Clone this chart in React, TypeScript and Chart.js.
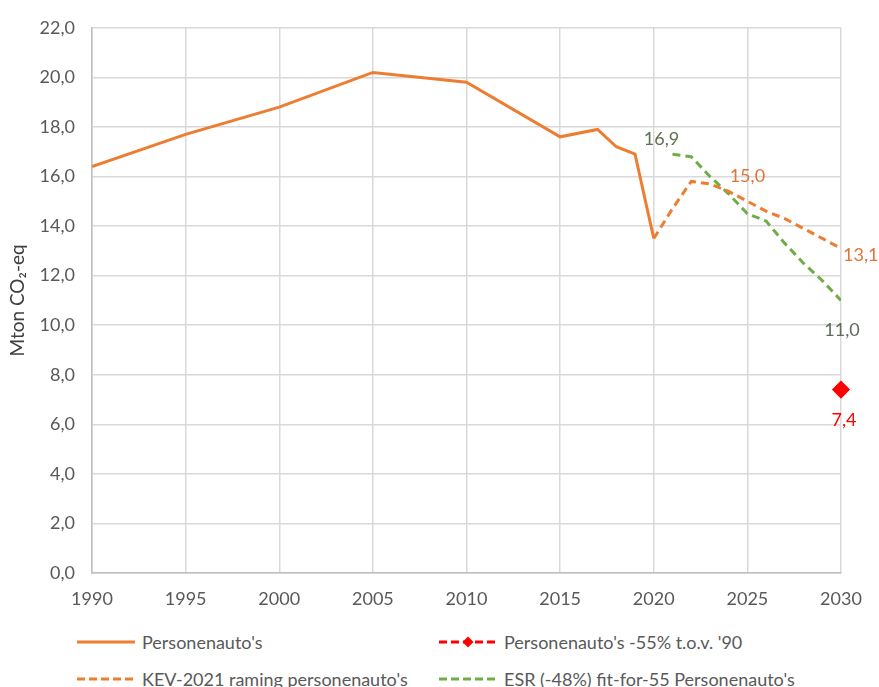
import React, { useEffect, useRef } from "react";
import { Chart, registerables } from "chart.js";

Chart.register(...registerables);

const yTicks = [0, 2, 4, 6, 8, 10, 12, 14, 16, 18, 20, 22];
const xTicks = [1990, 1995, 2000, 2005, 2010, 2015, 2020, 2025, 2030];

const histYears = [1990, 1995, 2000, 2005, 2010, 2015, 2017, 2018, 2019, 2020];
const histValues = [16.4, 17.7, 18.8, 20.2, 19.8, 17.6, 17.9, 17.2, 16.9, 13.5];

const kevYears = [2020, 2021, 2022, 2023, 2024, 2025, 2026, 2027, 2028, 2029, 2030];
const kevValues = [13.5, 14.7, 15.8, 15.7, 15.4, 15.0, 14.6, 14.3, 13.9, 13.5, 13.1];

const esrYears = [2021, 2022, 2023, 2024, 2025, 2026, 2027, 2028, 2029, 2030];
const esrValues = [16.9, 16.8, 16.0, 15.3, 14.5, 14.2, 13.3, 12.5, 11.8, 11.0];

const targetYears = [2030];
const targetValues = [7.4];

const seriesNames = [
  "Personenauto's",
  "KEV-2021 raming personenauto's",
  "ESR (-48%) fit-for-55 Personenauto's",
  "Personenauto's -55% t.o.v. '90",
];

const ORANGE = "#ED7D31";
const GREEN = "#70AD47";
const RED = "#FF0000";
const FONT = "Lato, 'Open Sans', sans-serif";

const fmt = (v: number) => v.toFixed(1).replace(".", ",");

const toPts = (xs: number[], ys: number[]) => xs.map((x, i) => ({ x, y: ys[i] }));

// labels: dataset index, year, text colour, offsets, alignment
const pointLabels = [
  { ds: 2, year: 2021, color: "#5f7050", dx: -11, dy: -15, align: "center" },
  { ds: 1, year: 2025, color: "#E2733A", dx: 0, dy: -25, align: "center" },
  { ds: 1, year: 2030, color: "#E2733A", dx: 2, dy: 7, align: "left" },
  { ds: 2, year: 2030, color: "#5f6a58", dx: 1, dy: 30, align: "center" },
  { ds: 3, year: 2030, color: "#FF0000", dx: 3, dy: 31, align: "center" },
];

const labelPlugin = {
  id: "pointLabels",
  afterDatasetsDraw(chart: any) {
    const ctx = chart.ctx;
    const xs = chart.scales.x;
    const ys = chart.scales.y;
    ctx.save();
    ctx.font = `18px ${FONT}`;
    ctx.textBaseline = "middle";
    pointLabels.forEach((l) => {
      const data = chart.data.datasets[l.ds].data as { x: number; y: number }[];
      const p = data.find((d) => d.x === l.year);
      if (!p) return;
      ctx.fillStyle = l.color;
      ctx.textAlign = l.align;
      ctx.fillText(fmt(p.y), xs.getPixelForValue(p.x) + l.dx, ys.getPixelForValue(p.y) + l.dy);
    });
    ctx.restore();
  },
};

const legendItems = [
  { name: seriesNames[0], color: ORANGE, dash: false, marker: false },
  { name: seriesNames[3], color: RED, dash: true, marker: true },
  { name: seriesNames[1], color: ORANGE, dash: true, marker: false },
  { name: seriesNames[2], color: GREEN, dash: true, marker: false },
];

function LegendSwatch({ color, dash, marker }: { color: string; dash: boolean; marker: boolean }) {
  return (
    <svg width={58} height={14} style={{ marginRight: 7 }}>
      <line
        x1={0}
        y1={7}
        x2={58}
        y2={7}
        stroke={color}
        strokeWidth={3}
        strokeDasharray={dash ? "8 4" : undefined}
      />
      {marker && <polygon points="29,1.5 34.5,7 29,12.5 23.5,7" fill={color} />}
    </svg>
  );
}

export default function App() {
  const canvasRef = useRef<HTMLCanvasElement | null>(null);

  useEffect(() => {
    document.body.style.margin = "0";
    const canvas = canvasRef.current;
    if (!canvas) return;
    const chart = new Chart(canvas, {
      type: "line",
      data: {
        datasets: [
          {
            label: seriesNames[0],
            data: toPts(histYears, histValues),
            borderColor: ORANGE,
            backgroundColor: ORANGE,
            borderWidth: 3,
            pointRadius: 0,
            tension: 0,
          },
          {
            label: seriesNames[1],
            data: toPts(kevYears, kevValues),
            borderColor: ORANGE,
            backgroundColor: ORANGE,
            borderWidth: 3,
            borderDash: [8, 5],
            pointRadius: 0,
          },
          {
            label: seriesNames[2],
            data: toPts(esrYears, esrValues),
            borderColor: GREEN,
            backgroundColor: GREEN,
            borderWidth: 3,
            borderDash: [8, 5],
            pointRadius: 0,
          },
          {
            label: seriesNames[3],
            data: toPts(targetYears, targetValues),
            borderColor: RED,
            backgroundColor: RED,
            borderWidth: 3,
            borderDash: [8, 5],
            pointStyle: "rectRot",
            pointRadius: 7,
            clip: false,
          },
        ],
      },
      options: {
        animation: false,
        responsive: false,
        maintainAspectRatio: false,
        layout: { padding: { top: 27, right: 38, left: 0, bottom: 0 } },
        plugins: {
          legend: { display: false },
          tooltip: { enabled: false },
        },
        scales: {
          x: {
            type: "linear",
            min: 1990,
            max: 2030,
            afterBuildTicks: (scale: any) => {
              scale.ticks = xTicks.map((v) => ({ value: v }));
            },
            afterFit: (scale: any) => {
              scale.height = 37;
            },
            ticks: {
              callback: (v: any) => String(v),
              color: "#595959",
              font: { family: FONT, size: 18 },
              padding: 15,
              maxRotation: 0,
            },
            grid: { color: "#d9d9d9", lineWidth: 1.5, drawTicks: false },
            border: { color: "#bfbfbf", width: 1.5 },
          },
          y: {
            min: 0,
            max: 22,
            afterBuildTicks: (scale: any) => {
              scale.ticks = yTicks.map((v) => ({ value: v }));
            },
            afterFit: (scale: any) => {
              scale.width = 92;
            },
            ticks: {
              callback: (v: any) => fmt(Number(v)),
              color: "#595959",
              font: { family: FONT, size: 18 },
              padding: 17,
            },
            title: {
              display: true,
              text: "Mton CO₂-eq",
              color: "#404040",
              font: { family: FONT, size: 19 },
              padding: { top: 6, bottom: 0 },
            },
            grid: { color: "#d9d9d9", lineWidth: 1.5, drawTicks: false },
            border: { color: "#bfbfbf", width: 1.5 },
          },
        },
      },
      plugins: [labelPlugin],
    } as any);
    return () => chart.destroy();
  }, []);

  return (
    <div
      style={{
        position: "relative",
        width: 879,
        height: 687,
        background: "#ffffff",
        overflow: "hidden",
        fontFamily: FONT,
      }}
    >
      <canvas ref={canvasRef} width={879} height={610} style={{ position: "absolute", left: 0, top: 0 }} />
      {legendItems.map((it, i) => {
        const col = i % 2;
        const row = Math.floor(i / 2);
        return (
          <div
            key={it.name}
            style={{
              position: "absolute",
              left: col === 0 ? 77 : 439,
              top: row === 0 ? 631 : 668,
              display: "flex",
              alignItems: "center",
              fontSize: 18,
              color: "#595959",
              whiteSpace: "nowrap",
              lineHeight: "22px",
            }}
          >
            <LegendSwatch color={it.color} dash={it.dash} marker={it.marker} />
            <span>{it.name}</span>
          </div>
        );
      })}
    </div>
  );
}
